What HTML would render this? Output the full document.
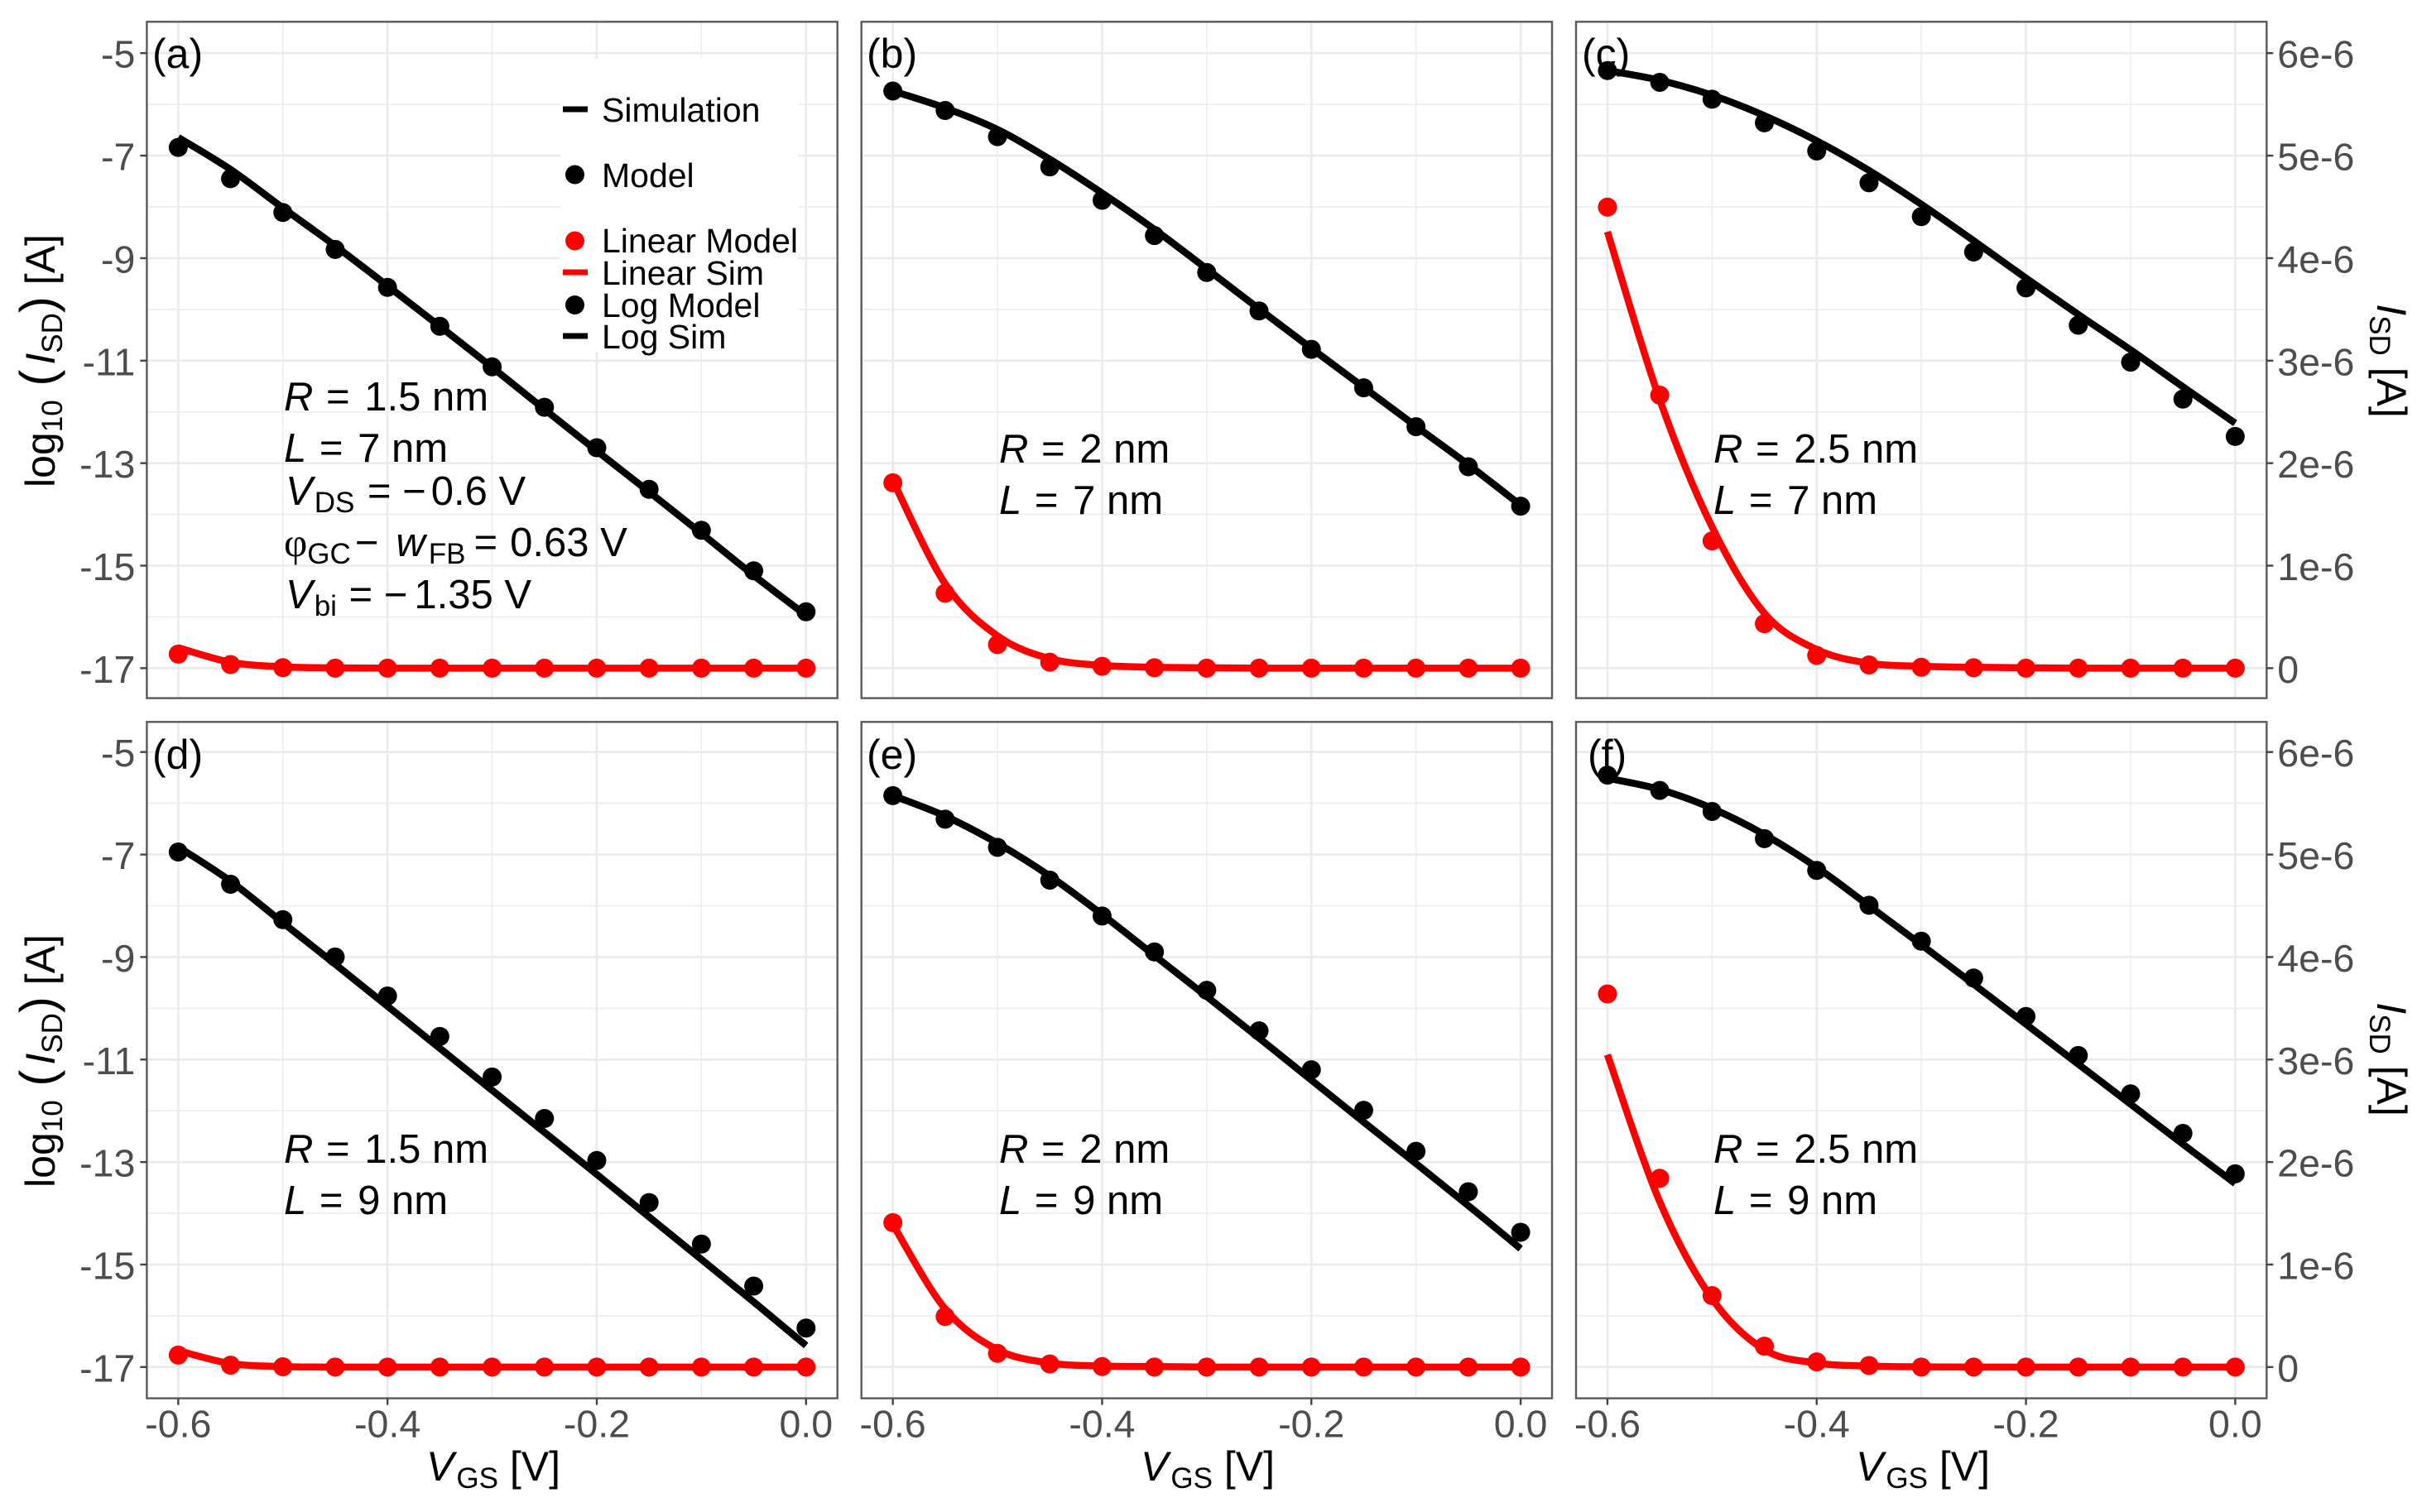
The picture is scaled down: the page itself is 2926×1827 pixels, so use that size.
<!DOCTYPE html>
<html>
<head>
<meta charset="utf-8">
<title>Transfer characteristics: simulation vs model</title>
<style>
html,body{margin:0;padding:0;background:#fff;}
svg{display:block;font-family:"Liberation Sans",Arial,sans-serif;}
.tick{font-size:46.5px;fill:#4d4d4d;}
.title{font-size:50px;fill:#000;}
.sub{font-size:35px;}
.ann{font-size:49px;fill:#000;}
.plabel{font-size:50px;fill:#000;}
.leg{font-size:41px;fill:#000;}
</style>
</head>
<body>
<svg id="chart" width="2926" height="1827" viewBox="0 0 2926 1827" xmlns="http://www.w3.org/2000/svg">
<rect width="2926" height="1827" fill="#fff"/>
<g id="grids"></g>
<g id="marks"></g>
<g id="axes"></g>

<g id="legend">
<rect x="677" y="71" width="287" height="354" fill="#fff"/>
<line x1="680" x2="710" y1="132" y2="132" stroke="#000" stroke-width="7"/>
<text class="leg" x="727" y="147">Simulation</text>
<circle cx="694.5" cy="211" r="11.5" fill="#000"/>
<text class="leg" x="727" y="226">Model</text>
<circle cx="694.5" cy="291" r="11.5" fill="#f00"/>
<text class="leg" x="727" y="305">Linear Model</text>
<line x1="680" x2="710" y1="329" y2="329" stroke="#f00" stroke-width="7"/>
<text class="leg" x="727" y="344">Linear Sim</text>
<circle cx="694.5" cy="368.5" r="11.5" fill="#000"/>
<text class="leg" x="727" y="383">Log Model</text>
<line x1="680" x2="710" y1="406" y2="406" stroke="#000" stroke-width="7"/>
<text class="leg" x="727" y="421">Log Sim</text>
</g>

<text class="plabel" x="184" y="82">(a)</text>
<text class="plabel" x="1047" y="82">(b)</text>
<text class="plabel" x="1911" y="82">(c)</text>
<text class="plabel" x="184" y="929">(d)</text>
<text class="plabel" x="1047" y="929">(e)</text>
<text class="plabel" x="1918" y="929">(f)</text>

<g class="ann">
<text x="343" y="496"><tspan font-style="italic">R</tspan><tspan dx="2"> =</tspan><tspan dx="4"> 1.5 nm</tspan></text>
<text x="343" y="558"><tspan font-style="italic">L</tspan><tspan dx="2"> =</tspan><tspan dx="4"> 7 nm</tspan></text>
<text x="345" y="610"><tspan font-style="italic">V</tspan><tspan class="sub" dy="9" dx="2">DS</tspan><tspan dy="-9" dx="2"> = −</tspan><tspan dx="6">0.6 V</tspan></text>
<text x="343" y="672"><tspan font-family="Liberation Serif">φ</tspan><tspan class="sub" dy="9">GC</tspan><tspan dy="-9" dx="5">−</tspan><tspan font-style="italic" dx="21">w</tspan><tspan class="sub" dy="9" dx="4">FB</tspan><tspan dy="-9" dx="10">=</tspan><tspan dx="15">0.63 V</tspan></text>
<text x="345" y="735"><tspan font-style="italic">V</tspan><tspan class="sub" dy="9" dx="2">bi</tspan><tspan dy="-9" dx="1"> = −</tspan><tspan dx="8">1.35 V</tspan></text>
</g>
<g class="ann">
<text x="1207" y="559"><tspan font-style="italic">R</tspan><tspan dx="2"> =</tspan><tspan dx="4"> 2 nm</tspan></text>
<text x="1207" y="621"><tspan font-style="italic">L</tspan><tspan dx="2"> =</tspan><tspan dx="4"> 7 nm</tspan></text>
</g>
<g class="ann">
<text x="2070" y="559"><tspan font-style="italic">R</tspan><tspan dx="2"> =</tspan><tspan dx="4"> 2.5 nm</tspan></text>
<text x="2070" y="621"><tspan font-style="italic">L</tspan><tspan dx="2"> =</tspan><tspan dx="4"> 7 nm</tspan></text>
</g>
<g class="ann">
<text x="343" y="1405"><tspan font-style="italic">R</tspan><tspan dx="2"> =</tspan><tspan dx="4"> 1.5 nm</tspan></text>
<text x="343" y="1467"><tspan font-style="italic">L</tspan><tspan dx="2"> =</tspan><tspan dx="4"> 9 nm</tspan></text>
</g>
<g class="ann">
<text x="1207" y="1405"><tspan font-style="italic">R</tspan><tspan dx="2"> =</tspan><tspan dx="4"> 2 nm</tspan></text>
<text x="1207" y="1467"><tspan font-style="italic">L</tspan><tspan dx="2"> =</tspan><tspan dx="4"> 9 nm</tspan></text>
</g>
<g class="ann">
<text x="2070" y="1405"><tspan font-style="italic">R</tspan><tspan dx="2"> =</tspan><tspan dx="4"> 2.5 nm</tspan></text>
<text x="2070" y="1467"><tspan font-style="italic">L</tspan><tspan dx="2"> =</tspan><tspan dx="4"> 9 nm</tspan></text>
</g>

<text class="title" text-anchor="middle" transform="translate(66,436) rotate(-90)">log<tspan class="sub" dy="9">10</tspan><tspan dy="-9" font-size="60"> (</tspan><tspan font-style="italic" dx="6">I</tspan><tspan class="sub" dy="9">SD</tspan><tspan dy="-9" font-size="60">)</tspan> [A]</text>
<text class="title" text-anchor="middle" transform="translate(66,1282) rotate(-90)">log<tspan class="sub" dy="9">10</tspan><tspan dy="-9" font-size="60"> (</tspan><tspan font-style="italic" dx="6">I</tspan><tspan class="sub" dy="9">SD</tspan><tspan dy="-9" font-size="60">)</tspan> [A]</text>
<text class="title" text-anchor="middle" transform="translate(2872,436) rotate(90)"><tspan font-style="italic">I</tspan><tspan class="sub" dy="9">SD</tspan><tspan dy="-9"> [A]</tspan></text>
<text class="title" text-anchor="middle" transform="translate(2872,1280) rotate(90)"><tspan font-style="italic">I</tspan><tspan class="sub" dy="9">SD</tspan><tspan dy="-9"> [A]</tspan></text>
<text class="title" text-anchor="middle" x="596" y="1789"><tspan font-style="italic">V</tspan><tspan class="sub" dy="9" dx="3">GS</tspan><tspan dy="-9"> [V]</tspan></text>
<text class="title" text-anchor="middle" x="1459" y="1789"><tspan font-style="italic">V</tspan><tspan class="sub" dy="9" dx="3">GS</tspan><tspan dy="-9"> [V]</tspan></text>
<text class="title" text-anchor="middle" x="2323" y="1789"><tspan font-style="italic">V</tspan><tspan class="sub" dy="9" dx="3">GS</tspan><tspan dy="-9"> [V]</tspan></text>
</svg>

<script>
// ---- shared categories and tick values ----
const vgs = [-0.6,-0.55,-0.5,-0.45,-0.4,-0.35,-0.3,-0.25,-0.2,-0.15,-0.1,-0.05,0];
const xMajorValues = [-0.6,-0.4,-0.2,0];
const xMinorValues = [-0.5,-0.3,-0.1];
const xTickLabels = ['-0.6','-0.4','-0.2','0.0'];
const yLogMajorValues = [-5,-7,-9,-11,-13,-15,-17];
const yLogMinorValues = [-6,-8,-10,-12,-14,-16];
const yLogTickLabels = ['-5','-7','-9','-11','-13','-15','-17'];
const yLinValues = [6e-6,5e-6,4e-6,3e-6,2e-6,1e-6,0];
const yLinTickLabels = ['6e-6','5e-6','4e-6','3e-6','2e-6','1e-6','0'];

// ---- log10(I) series [log10 A] ----
const logSimA = [-6.645,-7.27,-8.02,-8.76,-9.54,-10.33,-11.13,-11.95,-12.76,-13.56,-14.37,-15.19,-15.97];
const logModelA = [-6.84,-7.45,-8.11,-8.83,-9.57,-10.33,-11.12,-11.91,-12.70,-13.51,-14.31,-15.10,-15.90];
const logSimB = [-5.74,-6.07,-6.49,-7.07,-7.73,-8.44,-9.21,-9.99,-10.76,-11.52,-12.28,-13.03,-13.82];
const logModelB = [-5.74,-6.12,-6.63,-7.22,-7.87,-8.56,-9.28,-10.03,-10.78,-11.53,-12.29,-13.07,-13.84];
const logSimC = [-5.34,-5.53,-5.82,-6.22,-6.71,-7.29,-7.95,-8.66,-9.39,-10.10,-10.79,-11.51,-12.22];
const logModelC = [-5.34,-5.57,-5.90,-6.36,-6.91,-7.53,-8.19,-8.88,-9.58,-10.31,-11.03,-11.75,-12.48];
const logSimD = [-6.85,-7.52,-8.33,-9.14,-9.96,-10.78,-11.60,-12.42,-13.24,-14.07,-14.90,-15.73,-16.58];
const logModelD = [-6.95,-7.58,-8.27,-9.00,-9.76,-10.55,-11.34,-12.15,-12.97,-13.79,-14.60,-15.42,-16.24];
const logSimE = [-5.85,-6.25,-6.78,-7.42,-8.17,-8.97,-9.77,-10.58,-11.40,-12.22,-13.03,-13.85,-14.69];
const logModelE = [-5.85,-6.31,-6.86,-7.50,-8.20,-8.90,-9.65,-10.44,-11.20,-11.99,-12.79,-13.58,-14.37];
const logSimF = [-5.51,-5.73,-6.10,-6.61,-7.25,-8.00,-8.76,-9.53,-10.31,-11.09,-11.87,-12.65,-13.42];
const logModelF = [-5.45,-5.75,-6.16,-6.69,-7.31,-7.99,-8.69,-9.41,-10.16,-10.92,-11.67,-12.44,-13.23];

// ---- linear I series [A] ----
const linSimA = [0.20e-6,0.058e-6,0.013e-6,0.003e-6,0,0,0,0,0,0,0,0,0];
const linModelA = [0.137e-6,0.035e-6,0.005e-6,0,0,0,0,0,0,0,0,0,0];
const linSimB = [1.83e-6,0.824e-6,0.315e-6,0.093e-6,0.027e-6,0.009e-6,0.004e-6,0,0,0,0,0,0];
const linModelB = [1.808e-6,0.731e-6,0.230e-6,0.058e-6,0.018e-6,0.004e-6,0,0,0,0,0,0,0];
const linSimC = [4.258e-6,2.619e-6,1.378e-6,0.536e-6,0.182e-6,0.049e-6,0.018e-6,0.009e-6,0.004e-6,0,0,0,0];
const linModelC = [4.498e-6,2.663e-6,1.241e-6,0.434e-6,0.124e-6,0.031e-6,0.009e-6,0.004e-6,0,0,0,0,0];
const linSimD = [0.16e-6,0.035e-6,0.005e-6,0,0,0,0,0,0,0,0,0,0];
const linModelD = [0.117e-6,0.018e-6,0.003e-6,0,0,0,0,0,0,0,0,0,0];
const linSimE = [1.39e-6,0.568e-6,0.169e-6,0.04e-6,0.01e-6,0.005e-6,0,0,0,0,0,0,0];
const linModelE = [1.409e-6,0.493e-6,0.134e-6,0.03e-6,0.005e-6,0,0,0,0,0,0,0,0];
const linSimF = [3.047e-6,1.613e-6,0.667e-6,0.169e-6,0.04e-6,0.01e-6,0.002e-6,0,0,0,0,0,0];
const linModelF = [3.64e-6,1.842e-6,0.697e-6,0.204e-6,0.05e-6,0.015e-6,0,0,0,0,0,0,0];

const panelSeries = [
  {id:'a',col:0,row:0,logSim:logSimA,logModel:logModelA,linSim:linSimA,linModel:linModelA},
  {id:'b',col:1,row:0,logSim:logSimB,logModel:logModelB,linSim:linSimB,linModel:linModelB},
  {id:'c',col:2,row:0,logSim:logSimC,logModel:logModelC,linSim:linSimC,linModel:linModelC},
  {id:'d',col:0,row:1,logSim:logSimD,logModel:logModelD,linSim:linSimD,linModel:linModelD},
  {id:'e',col:1,row:1,logSim:logSimE,logModel:logModelE,linSim:linSimE,linModel:linModelE},
  {id:'f',col:2,row:1,logSim:logSimF,logModel:logModelF,linSim:linSimF,linModel:linModelF}
];

// ---- layout (separate from data) ----
const NS = 'http://www.w3.org/2000/svg';
const colLeft = [177.4, 1040.7, 1904];
const rowTop = [26.3, 872.3];
const rowAnchor = [64.2, 908.7];
const panelW = 834.3, panelH = 817.3;
const xDomain = [-0.63, 0.03];
const yUnitPx = 61.93;

function xScale(v, col) {
  return colLeft[col] + (v - xDomain[0]) / (xDomain[1] - xDomain[0]) * panelW;
}
function yLogScale(v, row) {
  return rowAnchor[row] + (-5 - v) * yUnitPx;
}
function yLinScale(v, row) {
  return yLogScale(-17 + v * 2e6, row);
}
function smoothPath(pts) {
  let d = 'M' + pts[0][0].toFixed(2) + ' ' + pts[0][1].toFixed(2);
  for (let i = 0; i < pts.length - 1; i++) {
    const p0 = pts[Math.max(i - 1, 0)], p1 = pts[i], p2 = pts[i + 1], p3 = pts[Math.min(i + 2, pts.length - 1)];
    const c1x = p1[0] + (p2[0] - p0[0]) / 6, c1y = p1[1] + (p2[1] - p0[1]) / 6;
    const c2x = p2[0] - (p3[0] - p1[0]) / 6, c2y = p2[1] - (p3[1] - p1[1]) / 6;
    d += 'C' + c1x.toFixed(2) + ' ' + c1y.toFixed(2) + ' ' + c2x.toFixed(2) + ' ' + c2y.toFixed(2) + ' ' + p2[0].toFixed(2) + ' ' + p2[1].toFixed(2);
  }
  return d;
}

const gridLayer = document.getElementById('grids');
const markLayer = document.getElementById('marks');
const axisLayer = document.getElementById('axes');

panelSeries.forEach(function (p) {
  const left = colLeft[p.col], top = rowTop[p.row];

  // grid
  yLogMinorValues.forEach(function (v) {
    const el = document.createElementNS(NS, 'line');
    
    
    el.setAttribute('x1', left);
    el.setAttribute('x2', left + panelW);
    el.setAttribute('y1', yLogScale(v, p.row));
    el.setAttribute('y2', yLogScale(v, p.row));
    el.setAttribute('stroke', '#ececec');
    el.setAttribute('stroke-width', '1.5');
    gridLayer.appendChild(el);
  });
  xMinorValues.forEach(function (v) {
    const el = document.createElementNS(NS, 'line');
    
    
    el.setAttribute('x1', xScale(v, p.col));
    el.setAttribute('x2', xScale(v, p.col));
    el.setAttribute('y1', top);
    el.setAttribute('y2', top + panelH);
    el.setAttribute('stroke', '#ececec');
    el.setAttribute('stroke-width', '1.5');
    gridLayer.appendChild(el);
  });
  yLogMajorValues.forEach(function (v) {
    const el = document.createElementNS(NS, 'line');
    
    
    el.setAttribute('x1', left);
    el.setAttribute('x2', left + panelW);
    el.setAttribute('y1', yLogScale(v, p.row));
    el.setAttribute('y2', yLogScale(v, p.row));
    el.setAttribute('stroke', '#ebebeb');
    el.setAttribute('stroke-width', '2.6');
    gridLayer.appendChild(el);
  });
  xMajorValues.forEach(function (v) {
    const el = document.createElementNS(NS, 'line');
    
    
    el.setAttribute('x1', xScale(v, p.col));
    el.setAttribute('x2', xScale(v, p.col));
    el.setAttribute('y1', top);
    el.setAttribute('y2', top + panelH);
    el.setAttribute('stroke', '#ebebeb');
    el.setAttribute('stroke-width', '2.6');
    gridLayer.appendChild(el);
  });

  // model points
  vgs.forEach(function (v, i) {
    const dot = document.createElementNS(NS, 'circle');
    
    
    dot.setAttribute('cx', xScale(v, p.col));
    dot.setAttribute('cy', yLogScale(p.logModel[i], p.row));
    dot.setAttribute('r', '11.5');
    dot.setAttribute('fill', '#000');
    markLayer.appendChild(dot);
  });
  vgs.forEach(function (v, i) {
    const dot = document.createElementNS(NS, 'circle');
    
    
    dot.setAttribute('cx', xScale(v, p.col));
    dot.setAttribute('cy', yLinScale(p.linModel[i], p.row));
    dot.setAttribute('r', '11.5');
    dot.setAttribute('fill', '#f00');
    markLayer.appendChild(dot);
  });

  // simulation curves
  const logLine = document.createElementNS(NS, 'path');
  
  
  logLine.setAttribute('d', smoothPath(vgs.map(function (v, i) { return [xScale(v, p.col), yLogScale(p.logSim[i], p.row)]; })));
  logLine.setAttribute('fill', 'none');
  logLine.setAttribute('stroke', '#000');
  logLine.setAttribute('stroke-width', '8.5');
  markLayer.appendChild(logLine);

  const linLine = document.createElementNS(NS, 'path');
  
  
  linLine.setAttribute('d', smoothPath(vgs.map(function (v, i) { return [xScale(v, p.col), yLinScale(p.linSim[i], p.row)]; })));
  linLine.setAttribute('fill', 'none');
  linLine.setAttribute('stroke', '#f00');
  linLine.setAttribute('stroke-width', '8.5');
  markLayer.appendChild(linLine);

  // border
  const border = document.createElementNS(NS, 'rect');
  
  
  border.setAttribute('x', left);
  border.setAttribute('y', top);
  border.setAttribute('width', panelW);
  border.setAttribute('height', panelH);
  border.setAttribute('fill', 'none');
  border.setAttribute('stroke', '#5a5a5a');
  border.setAttribute('stroke-width', '2.4');
  axisLayer.appendChild(border);

  // left axis
  if (p.col === 0) {
    yLogMajorValues.forEach(function (v, i) {
      const y = yLogScale(v, p.row);
      const tick = document.createElementNS(NS, 'line');
      
      
      tick.setAttribute('x1', left - 8);
      tick.setAttribute('x2', left);
      tick.setAttribute('y1', y);
      tick.setAttribute('y2', y);
      tick.setAttribute('stroke', '#444');
      tick.setAttribute('stroke-width', '2.4');
      axisLayer.appendChild(tick);
      const label = document.createElementNS(NS, 'text');
      
      
      label.setAttribute('class', 'tick');
      label.setAttribute('x', left - 14);
      label.setAttribute('y', y + 17.5);
      label.setAttribute('text-anchor', 'end');
      label.textContent = yLogTickLabels[i];
      axisLayer.appendChild(label);
    });
  }

  // right axis
  if (p.col === 2) {
    yLinValues.forEach(function (v, i) {
      const y = yLinScale(v, p.row);
      const tick = document.createElementNS(NS, 'line');
      
      
      tick.setAttribute('x1', left + panelW);
      tick.setAttribute('x2', left + panelW + 8);
      tick.setAttribute('y1', y);
      tick.setAttribute('y2', y);
      tick.setAttribute('stroke', '#444');
      tick.setAttribute('stroke-width', '2.4');
      axisLayer.appendChild(tick);
      const label = document.createElementNS(NS, 'text');
      
      
      label.setAttribute('class', 'tick');
      label.setAttribute('x', left + panelW + 13);
      label.setAttribute('y', y + 17.5);
      label.textContent = yLinTickLabels[i];
      axisLayer.appendChild(label);
    });
  }

  // bottom axis
  if (p.row === 1) {
    xMajorValues.forEach(function (v, i) {
      const x = xScale(v, p.col);
      const tick = document.createElementNS(NS, 'line');
      
      
      tick.setAttribute('x1', x);
      tick.setAttribute('x2', x);
      tick.setAttribute('y1', top + panelH);
      tick.setAttribute('y2', top + panelH + 8);
      tick.setAttribute('stroke', '#444');
      tick.setAttribute('stroke-width', '2.4');
      axisLayer.appendChild(tick);
      const label = document.createElementNS(NS, 'text');
      
      
      label.setAttribute('class', 'tick');
      label.setAttribute('x', x);
      label.setAttribute('y', top + panelH + 47);
      label.setAttribute('text-anchor', 'middle');
      label.textContent = xTickLabels[i];
      axisLayer.appendChild(label);
    });
  }
});
</script>
</body>
</html>
